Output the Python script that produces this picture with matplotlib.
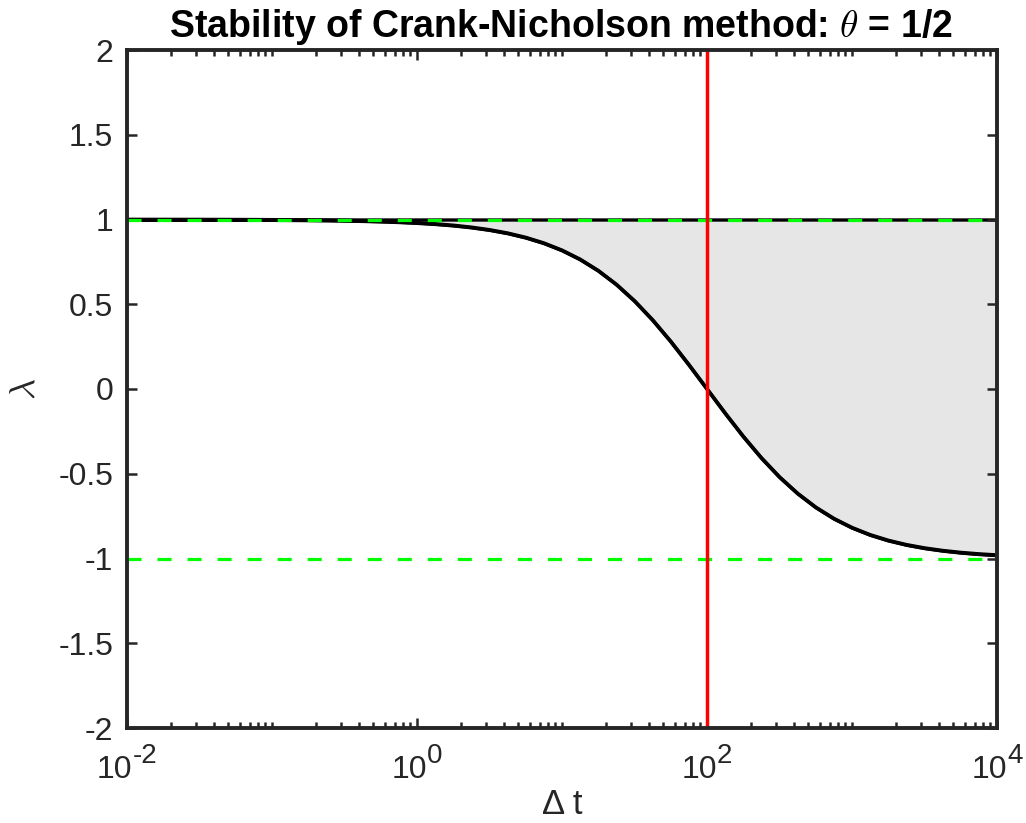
import numpy as np
import matplotlib
matplotlib.use("Agg")
import matplotlib.pyplot as plt
import matplotlib.transforms as mtransforms
from matplotlib.ticker import FixedLocator, FixedFormatter, LogLocator, NullFormatter

plt.rcParams['font.family'] = ['Liberation Sans', 'DejaVu Sans']
plt.rcParams['mathtext.fontset'] = 'cm'
plt.rcParams['axes.unicode_minus'] = False

# Amplification factor of the theta-scheme (theta = 1/2), sampled every 1/8 decade
dt = np.logspace(-2, 4, 49)
lam = [0.9998, 0.9997, 0.9996, 0.9995, 0.9994, 0.9992, 0.9989, 0.9985,
       0.9980, 0.9973, 0.9964, 0.9953, 0.9937, 0.9916, 0.9888, 0.9851,
       0.9802, 0.9737, 0.9651, 0.9537, 0.9387, 0.9191, 0.8935, 0.8605,
       0.8182, 0.7647, 0.6980, 0.6166, 0.5195, 0.4068, 0.2801, 0.1429,
       0.0,
       -0.1429, -0.2801, -0.4068, -0.5195, -0.6166, -0.6980, -0.7647, -0.8182,
       -0.8605, -0.8935, -0.9191, -0.9387, -0.9537, -0.9651, -0.9737, -0.9802]

stab_bounds = [1.0, -1.0]
dt_critical = 100.0

x_ticks = [1e-2, 1e0, 1e2, 1e4]
x_exponents = ['-2', '0', '2', '4']
y_ticks = [-2, -1.5, -1, -0.5, 0, 0.5, 1, 1.5, 2]
y_ticklabels = ['-2', '-1.5', '-1', '-0.5', '0', '0.5', '1', '1.5', '2']

axis_color = '#262626'
W, H = 1026, 823

fig = plt.figure(figsize=(W / 100, H / 100), dpi=100)
ax = fig.add_axes([127 / W, 1 - 728 / H, 870 / W, 678 / H])

ax.fill_between(dt, lam, stab_bounds[0], facecolor='#e6e6e6',
                edgecolor='black', linewidth=2.4, zorder=1)
ax.plot(dt, lam, color='black', linewidth=2.7, zorder=2)
for yb in stab_bounds:
    ax.axhline(yb, color=(0, 1, 0), linewidth=2.3,
               linestyle=(0, (4.4, 5.0)), zorder=3)
ax.axvline(dt_critical, color='red', linewidth=2.5, zorder=4)

ax.set_xscale('log')
ax.set_xlim(1e-2, 1e4)
ax.set_ylim(-2, 2)

ax.xaxis.set_major_locator(FixedLocator(x_ticks))
ax.xaxis.set_major_formatter(NullFormatter())
ax.xaxis.set_minor_locator(LogLocator(base=10, subs=np.arange(1, 10), numticks=100))
ax.xaxis.set_minor_formatter(NullFormatter())
ax.yaxis.set_major_locator(FixedLocator(y_ticks))
ax.yaxis.set_major_formatter(FixedFormatter(y_ticklabels))

ax.tick_params(which='both', direction='in', top=True, right=True,
               color=axis_color, labelcolor=axis_color, width=1.8)
ax.tick_params(which='major', length=7.5, labelsize=23, pad=10)
ax.tick_params(which='minor', length=4)

for sp in ax.spines.values():
    sp.set_color(axis_color)
    sp.set_linewidth(2.8)
    sp.set_zorder(5)

# Decade labels: base "10" with a large raised exponent, centred on the tick
renderer = fig.canvas.get_renderer()
xtrans = mtransforms.blended_transform_factory(ax.transData, ax.transAxes)
for xv, ex in zip(x_ticks, x_exponents):
    base = ax.text(xv, 0, '10', fontsize=23, color=axis_color,
                   ha='left', va='baseline', transform=xtrans, clip_on=False)
    sup = ax.text(xv, 0, ex, fontsize=20, color=axis_color,
                  ha='left', va='baseline', transform=xtrans, clip_on=False)
    wb = base.get_window_extent(renderer).width
    ws = sup.get_window_extent(renderer).width
    left = -(wb + ws) / 2
    base.set_transform(mtransforms.offset_copy(xtrans, fig, x=left, y=-50, units='dots'))
    sup.set_transform(mtransforms.offset_copy(xtrans, fig, x=left + wb, y=-35, units='dots'))

fig.text(561 / W, 1 - 37 / H, r'Stability of Crank-Nicholson method: $\theta$ = 1/2',
         fontsize=27, fontweight='bold', ha='center', va='baseline', color='black')
fig.text(562 / W, 1 - 814 / H, 'Δ t', fontsize=25, color=axis_color,
         ha='center', va='baseline')
fig.text(25 / W, 1 - 389 / H, r'$\lambda$', fontsize=26, color=axis_color,
         rotation=90, ha='center', va='center')

fig.savefig('out.png', dpi=100)
